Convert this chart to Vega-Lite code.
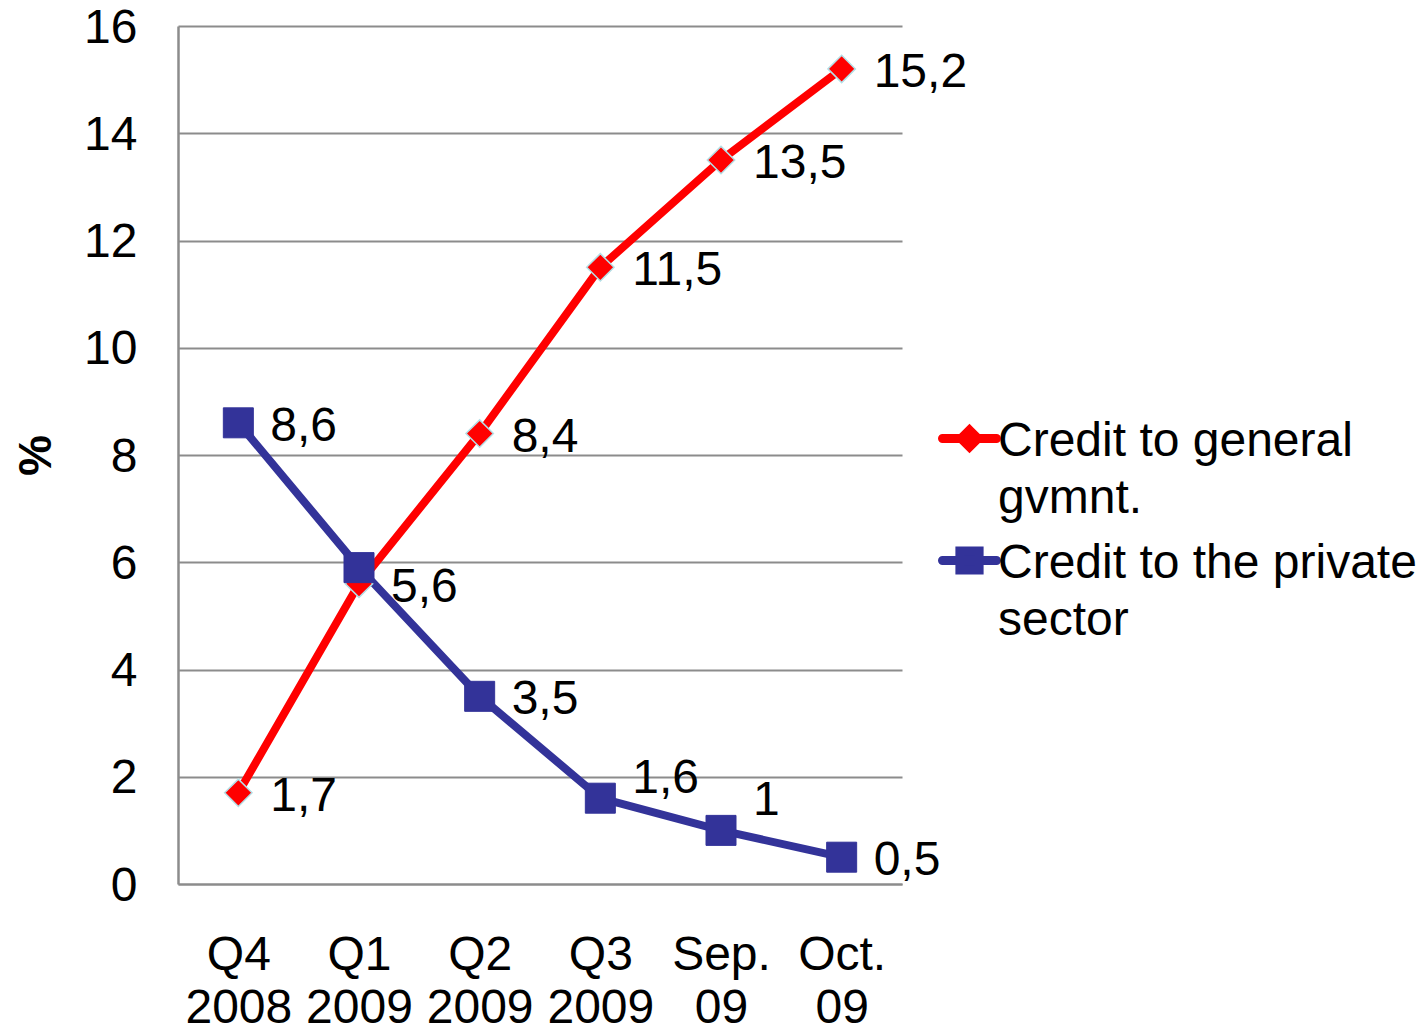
{
  "$schema": "https://vega.github.io/schema/vega-lite/v6.json",
  "width": 724,
  "height": 858,
  "autosize": {"type": "none"},
  "padding": {"left": 178, "top": 26, "right": 523, "bottom": 147},
  "background": "white",
  "config": {"font": "Liberation Sans", "view": {"stroke": null}},
  "data": {
    "values": [
      {"period": "Q4 2008", "series": "Credit to general gvmnt.", "value": 1.7, "label": "1,7"},
      {"period": "Q1 2009", "series": "Credit to general gvmnt.", "value": 5.6, "label": "5,6"},
      {"period": "Q2 2009", "series": "Credit to general gvmnt.", "value": 8.4, "label": "8,4"},
      {"period": "Q3 2009", "series": "Credit to general gvmnt.", "value": 11.5, "label": "11,5"},
      {"period": "Sep. 09", "series": "Credit to general gvmnt.", "value": 13.5, "label": "13,5"},
      {"period": "Oct. 09", "series": "Credit to general gvmnt.", "value": 15.2, "label": "15,2"},
      {"period": "Q4 2008", "series": "Credit to the private sector", "value": 8.6, "label": "8,6"},
      {"period": "Q1 2009", "series": "Credit to the private sector", "value": 5.9, "label": null},
      {"period": "Q2 2009", "series": "Credit to the private sector", "value": 3.5, "label": "3,5"},
      {"period": "Q3 2009", "series": "Credit to the private sector", "value": 1.6, "label": "1,6"},
      {"period": "Sep. 09", "series": "Credit to the private sector", "value": 1.0, "label": "1"},
      {"period": "Oct. 09", "series": "Credit to the private sector", "value": 0.5, "label": "0,5"}
    ]
  },
  "encoding": {
    "x": {
      "field": "period",
      "type": "ordinal",
      "sort": ["Q4 2008", "Q1 2009", "Q2 2009", "Q3 2009", "Sep. 09", "Oct. 09"],
      "scale": {"type": "point", "padding": 0.5},
      "axis": {
        "title": null,
        "labelExpr": "split(datum.label, ' ')",
        "labelFontSize": 48,
        "labelLineHeight": 53,
        "labelBaseline": "top",
        "labelAngle": 0,
        "labelPadding": 47,
        "labelColor": "black",
        "ticks": false,
        "tickSize": 0,
        "grid": false,
        "domainColor": "#8c8c8c",
        "domainWidth": 2
      }
    },
    "y": {
      "field": "value",
      "type": "quantitative",
      "scale": {"domain": [0, 16], "nice": false},
      "axis": {
        "title": "%",
        "titleFontSize": 46,
        "titleFontWeight": "bold",
        "titleAngle": 270,
        "titleX": -142,
        "titleY": 429,
        "titleAlign": "center",
        "titleBaseline": "middle",
        "titleColor": "black",
        "values": [0, 2, 4, 6, 8, 10, 12, 14, 16],
        "labelFontSize": 48,
        "labelPadding": 41,
        "labelOffset": 2,
        "labelColor": "black",
        "ticks": false,
        "tickSize": 0,
        "grid": true,
        "gridColor": "#8c8c8c",
        "gridWidth": 2,
        "domainColor": "#8c8c8c",
        "domainWidth": 2.5
      }
    }
  },
  "layer": [
    {
      "mark": {"type": "line", "strokeWidth": 8},
      "encoding": {
        "color": {
          "field": "series",
          "type": "nominal",
          "scale": {"domain": ["Credit to general gvmnt.", "Credit to the private sector"], "range": ["#ff0000", "#333399"]},
          "legend": {
            "orient": "none",
            "legendX": 757,
            "legendY": 378,
            "title": null,
            "padding": 0,
            "symbolSize": 3600,
            "symbolStrokeWidth": 9,
            "labelFontSize": 48,
            "labelColor": "black",
            "labelLimit": 700,
            "labelOffset": -6,
            "labelBaseline": "top",
            "rowPadding": 3,
            "labelExpr": "datum.label == 'Credit to general gvmnt.' ? ['Credit to general', 'gvmnt.'] : ['Credit to the private', 'sector']",
            "encode": {
              "symbols": {
                "update": {
                  "shape": {"signal": "datum.value == 'Credit to general gvmnt.' ? 'M-0.9,0L0.9,0M0,-0.28L0.28,0L0,0.28L-0.28,0Z' : 'M-0.9,0L0.9,0M-0.32,-0.32L0.32,-0.32L0.32,0.32L-0.32,0.32Z'"},
                  "size": {"value": 3600},
                  "stroke": {"signal": "datum.value == 'Credit to general gvmnt.' ? '#ff0000' : '#333399'"},
                  "fill": {"signal": "datum.value == 'Credit to general gvmnt.' ? '#ff0000' : '#333399'"},
                  "strokeWidth": {"value": 9},
                  "strokeCap": {"value": "round"},
                  "opacity": {"value": 1},
                  "fillOpacity": {"value": 1},
                  "strokeOpacity": {"value": 1}
                }
              },
              "labels": {
                "update": {
                  "dy": {"value": -21},
                  "lineHeight": {"value": 57}
                }
              }
            }
          }
        }
      }
    },
    {
      "transform": [{"filter": "datum.series == 'Credit to general gvmnt.'"}],
      "mark": {"type": "point", "shape": "diamond", "size": 750, "filled": true, "opacity": 1, "fill": "#ff0000", "stroke": "#b4dfe6", "strokeWidth": 1.5}
    },
    {
      "transform": [{"filter": "datum.series == 'Credit to the private sector'"}],
      "mark": {"type": "point", "shape": "square", "size": 900, "filled": true, "opacity": 1, "fill": "#333399", "stroke": "#333399", "strokeWidth": 1}
    },
    {
      "transform": [{"filter": "datum.label != null && !(datum.series == 'Credit to the private sector' && (datum.period == 'Q3 2009' || datum.period == 'Sep. 09'))"}],
      "mark": {"type": "text", "align": "left", "baseline": "middle", "dx": 32, "dy": 4, "fontSize": 48, "color": "black"},
      "encoding": {"text": {"field": "label"}}
    },
    {
      "transform": [{"filter": "datum.series == 'Credit to the private sector' && datum.period == 'Q3 2009'"}],
      "mark": {"type": "text", "align": "left", "baseline": "middle", "dx": 32, "dy": -19, "fontSize": 48, "color": "black"},
      "encoding": {"text": {"field": "label"}}
    },
    {
      "transform": [{"filter": "datum.series == 'Credit to the private sector' && datum.period == 'Sep. 09'"}],
      "mark": {"type": "text", "align": "left", "baseline": "middle", "dx": 32, "dy": -29, "fontSize": 48, "color": "black"},
      "encoding": {"text": {"field": "label"}}
    }
  ]
}
